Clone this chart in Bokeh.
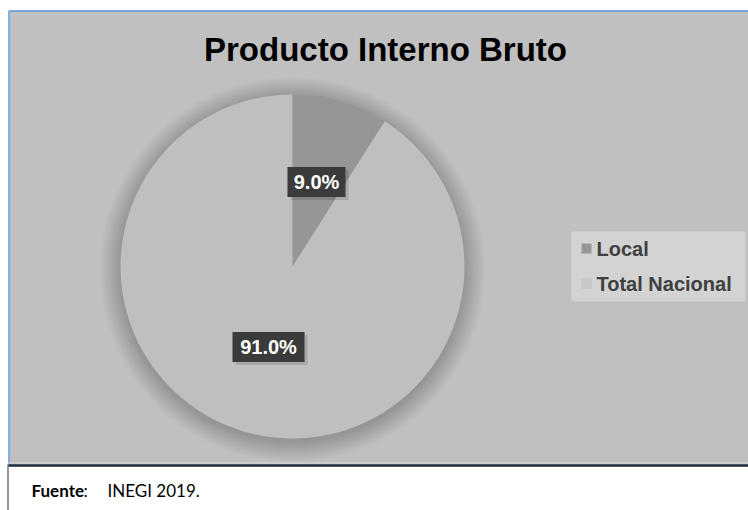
import math
from bokeh.plotting import figure
from bokeh.models import Range1d, ColumnDataSource
from bokeh.core.properties import value
from bokeh.embed import file_html
from bokeh.resources import INLINE

# ---- data ----
title_text = "Producto Interno Bruto"
categories = ["Local", "Total Nacional"]
values = [9.0, 91.0]
slice_colors = ["#969696", "#bfbfbf"]
source_bold = "Fuente"
source_sep = ":"
source_rest = "INEGI 2019."

W, H = 748, 510

def Y(py):
    return H - py

p = figure(width=W, height=H, output_backend="svg", toolbar_location=None,
           x_range=Range1d(0, W), y_range=Range1d(0, H),
           min_border=0, min_border_left=0, min_border_right=0,
           min_border_top=0, min_border_bottom=0)
p.axis.visible = False
p.grid.visible = False
p.outline_line_color = None
p.background_fill_color = "white"
p.border_fill_color = "white"

# chart panel
p.quad(left=[9], right=[W], top=[Y(10)], bottom=[Y(464)],
       fill_color="#c0c0c0", line_color=None)
# blue top/left border
p.segment(x0=[9], y0=[Y(10.5)], x1=[W], y1=[Y(10.5)], line_color="#5b9bd5", line_width=1.5)
p.segment(x0=[8.5], y0=[Y(10)], x1=[8.5], y1=[Y(464)], line_color="#5b9bd5", line_width=1.5)
p.segment(x0=[7.5], y0=[Y(464)], x1=[7.5], y1=[Y(510)], line_color="#333333", line_width=1)
# bottom double line
p.segment(x0=[8], y0=[Y(462.5)], x1=[W], y1=[Y(462.5)], line_color="#d8d8d8", line_width=1)
p.segment(x0=[8], y0=[Y(465)], x1=[W], y1=[Y(465)], line_color="#1c2a3a", line_width=2.5)

# title
p.text(x=[385], y=[Y(49)], text=[title_text], text_font=value("Liberation Sans"),
       text_font_style="bold", text_font_size="33px", text_color="#000000",
       text_align="center", text_baseline="middle")

# pie
cx, cy, R = 292, Y(266), 172
# soft shadow
for k in range(1, 22):
    p.circle(x=[cx], y=[cy - 3], radius=R + k, fill_color="black", fill_alpha=0.006, line_color=None)

total = sum(values)
starts, ends, mids = [], [], []
acc = 0.0
for v in values:
    a0 = math.pi / 2 - 2 * math.pi * acc / total
    acc += v
    a1 = math.pi / 2 - 2 * math.pi * acc / total
    starts.append(a0)
    ends.append(a1)
    mids.append((a0 + a1) / 2)

src = ColumnDataSource(dict(start=starts, end=ends, color=slice_colors, cat=categories))
p.wedge(x=cx, y=cy, radius=R, start_angle="start", end_angle="end", direction="clock",
        fill_color="color", line_color=None, source=src)

# data labels
lab_txt = [f"{v:.1f}%" for v in values]
lx = [cx + 0.5 * R * math.cos(m) for m in mids]
ly = [cy + 0.5 * R * math.sin(m) + 2 for m in mids]
bw = [14 * len(t) + 2 for t in lab_txt]
p.rect(x=[x + 3 for x in lx], y=[y - 3 for y in ly], width=bw, height=[30] * len(bw),
       fill_color="black", fill_alpha=0.12, line_color=None)
p.rect(x=lx, y=ly, width=bw, height=[30] * len(bw), fill_color="#3b3b3b", line_color=None)
p.text(x=lx, y=ly, text=lab_txt, text_font=value("Liberation Sans"), text_font_style="bold",
       text_font_size="20px", text_color="white", text_align="center", text_baseline="middle")

# legend
p.quad(left=[571], right=[745], top=[Y(231)], bottom=[Y(301)],
       fill_color="#d3d3d3", line_color=None)
leg_y = [Y(248), Y(283)]
p.rect(x=[586] * len(categories), y=leg_y, width=10, height=10,
       fill_color=slice_colors, line_color=None)
p.rect(x=[586], y=[leg_y[1]], width=10, height=10, fill_color="#c8c8c8", line_color=None)
p.text(x=[596] * len(categories), y=leg_y, text=categories, text_font=value("Liberation Sans"),
       text_font_style="bold", text_font_size="20px", text_color="#404040",
       text_align="left", text_baseline="middle")

# source note
p.text(x=[31], y=[Y(490)], text=[source_bold], text_font=value("Lato"),
       text_font_style="bold", text_font_size="17px", text_color="#000000",
       text_align="left", text_baseline="middle")
p.text(x=[83], y=[Y(490)], text=[source_sep], text_font=value("Lato"),
       text_font_size="17px", text_color="#000000",
       text_align="left", text_baseline="middle")
p.text(x=[107], y=[Y(490)], text=[source_rest], text_font=value("Lato"),
       text_font_size="17px", text_color="#000000",
       text_align="left", text_baseline="middle")

open("out.html", "w").write(file_html(p, INLINE))
